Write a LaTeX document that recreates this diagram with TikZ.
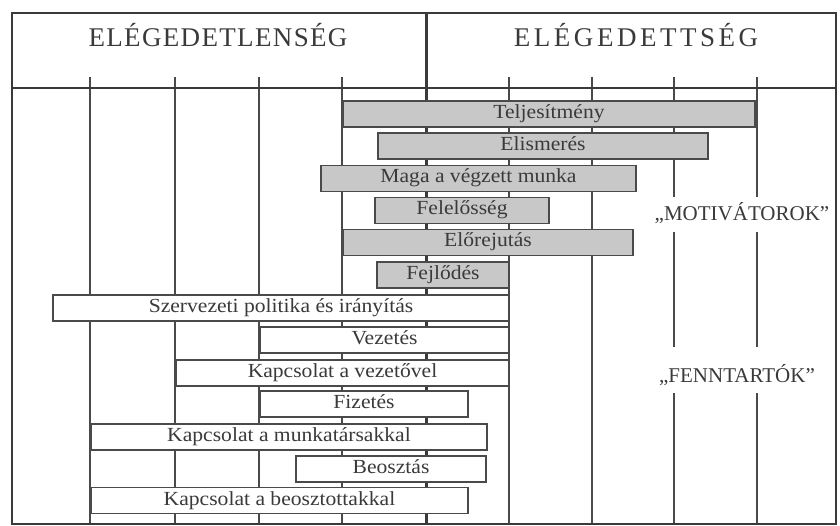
\documentclass[tikz,border=0pt]{standalone}
\usepackage{fontspec}
\setmainfont{Liberation Serif}
\newfontfamily\barfont{Liberation Serif}[FakeStretch=1.08]
\newfontfamily\hdfontL{Liberation Serif}[LetterSpace=5]
\newfontfamily\hdfontR{Liberation Serif}[LetterSpace=13]
\newfontfamily\lblfont{Liberation Serif}
\definecolor{ink}{HTML}{3A3A3A}
\definecolor{gridc}{HTML}{4A4A4A}
\definecolor{barfill}{HTML}{C8C8C8}
\tikzset{
  gridline/.style={draw=gridc, line width=1.5pt},
  frameline/.style={draw=ink, line width=2.5pt},
  barbox/.style={draw=gridc, line width=1.5pt, inner sep=0pt, outer sep=0pt,
    minimum height=26pt, text=ink, font=\barfont\fontsize{20}{24}\selectfont,
    text height=13pt, text depth=4pt},
  gbar/.style={barbox, fill=barfill},
  wbar/.style={barbox, fill=white},
  hdr/.style={text=ink, inner sep=0pt, anchor=base},
  grouplbl/.style={text=ink, inner sep=0pt, font=\lblfont\fontsize{21}{25}\selectfont,
    text height=14pt, text depth=0pt}
}
\begin{document}
\begin{tikzpicture}[x=1pt, y=-1pt]
\useasboundingbox (0,0) rectangle (840,526);
\fill[white] (0,0) rectangle (840,526);
% grid lines
\foreach \gx in {90,175,259,342,509,592}
  \draw[gridline] (\gx,77) -- (\gx,524);
% grid lines with gaps for the labels
\foreach \gx in {674,757} {
  \draw[gridline] (\gx,77) -- (\gx,197);
  \draw[gridline] (\gx,232) -- (\gx,347);
  \draw[gridline] (\gx,393) -- (\gx,524);
}
% frame, header line and centre line
\draw[frameline] (12,13) rectangle (836,524);
\draw[draw=ink, line width=2pt] (12,88) -- (836,88);
\draw[draw=ink, line width=3pt] (426,13) -- (426,524);
% headers
\node[hdr, font=\hdfontL\fontsize{27}{32}\selectfont] (hl) at (218,47) {ELÉGEDETLENSÉG};
\node[hdr, font=\hdfontR\fontsize{27}{32}\selectfont] (hr) at (636,47) {ELÉGEDETTSÉG};
% motivators
\node[gbar, minimum width=412pt] (b1) at (549,114) {Teljesítmény};
\node[gbar, minimum width=330pt] (b2) at (543,146) {Elismerés};
\node[gbar, minimum width=315pt] (b3) at (478.5,178.5) {Maga a végzett munka};
\node[gbar, minimum width=174pt] (b4) at (462,210.5) {Felelősség};
\node[gbar, minimum width=290pt] (b5) at (488,242.5) {Előrejutás};
\node[gbar, minimum width=132pt] (b6) at (443,275) {Fejlődés};
% maintainers
\node[wbar, minimum width=456pt] (b7) at (281,308) {Szervezeti politika és irányítás};
\node[wbar, minimum width=249pt] (b8) at (384.5,340) {Vezetés};
\node[wbar, minimum width=333pt] (b9) at (342.5,373) {Kapcsolat a vezetővel};
\node[wbar, minimum width=208pt] (b10) at (364,404) {Fizetés};
\node[wbar, minimum width=396pt] (b11) at (289,437) {Kapcsolat a munkatársakkal};
\node[wbar, minimum width=190pt] (b12) at (391,469) {Beosztás};
\node[wbar, minimum width=377pt] (b13) at (279.5,500.5) {Kapcsolat a beosztottakkal};
% group labels
\node[grouplbl] (mot) at (742,214) {„MOTIVÁTOROK”};
\node[grouplbl] (fen) at (737,375) {„FENNTARTÓK”};
\end{tikzpicture}
\end{document}
